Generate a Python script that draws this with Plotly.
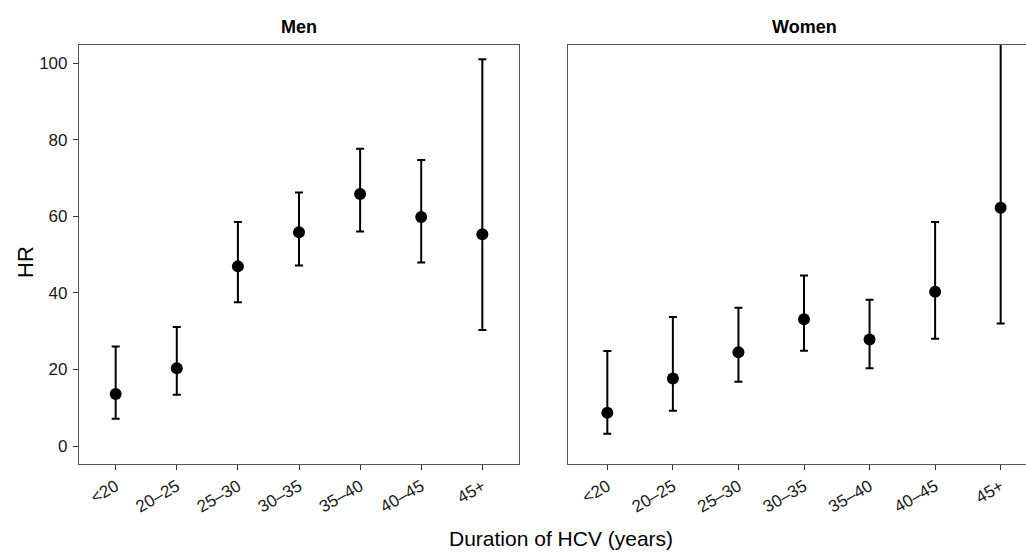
import plotly.graph_objects as go

categories = ["<20", "20–25", "25–30", "30–35", "35–40", "40–45", "45+"]

men_hr = [13.6, 20.3, 46.9, 55.8, 65.8, 59.8, 55.3]
men_lower = [7.1, 13.4, 37.5, 47.1, 56.0, 47.9, 30.3]
men_upper = [26.0, 31.1, 58.5, 66.2, 77.6, 74.7, 101.0]

women_hr = [8.7, 17.6, 24.5, 33.1, 27.8, 40.3, 62.2]
women_lower = [3.2, 9.2, 16.8, 24.9, 20.3, 28.0, 32.0]
women_upper = [24.8, 33.7, 36.1, 44.5, 38.2, 58.5, 121.0]

FONT = "Liberation Sans, Arial, sans-serif"
W, H = 1026, 552
L, R, T, B = 79, 0, 45, 88
plot_w = W - L - R
plot_h = H - T - B

men_px = (79, 519)
women_px = (568, 1040)
step_w = (women_px[1] - women_px[0]) / 7.2

def dom(px):
    return [(px[0] - L) / plot_w, min(1.0, (px[1] - L) / plot_w)]

def px_x(x):
    return (x - L) / plot_w

def px_y(y):
    return (H - B - y) / plot_h

fig = go.Figure()

def add_series(hr, lo, up, xa, ya):
    fig.add_trace(go.Scatter(
        x=categories, y=hr, mode="markers",
        marker=dict(color="black", size=12),
        error_y=dict(type="data", symmetric=False,
                     array=[u - h for u, h in zip(up, hr)],
                     arrayminus=[h - l for h, l in zip(hr, lo)],
                     color="black", thickness=2, width=4),
        xaxis=xa, yaxis=ya, showlegend=False,
    ))

add_series(men_hr, men_lower, men_upper, "x", "y")
add_series(women_hr, women_lower, women_upper, "x2", "y2")

yrange = [-4.7, 104.7]
tickfont = dict(family=FONT, size=17, color="#1a1a1a")
common = dict(showline=True, linecolor="#555555", linewidth=1.2,
              showgrid=False, zeroline=False, automargin=False,
              tickcolor="#333333", tickwidth=1, ticklen=5)

women_right = -0.6 + (W - women_px[0]) / step_w

fig.update_layout(
    width=W, height=H,
    margin=dict(l=L, r=R, t=T, b=B),
    plot_bgcolor="white", paper_bgcolor="white",
    font=dict(family=FONT, color="black"),
    xaxis=dict(domain=dom(men_px), range=[-0.6, 6.6], mirror=True,
               tickangle=-30, anchor="y", ticks="outside", tickfont=tickfont, **common),
    yaxis=dict(domain=[0, 1], range=yrange, mirror=True, ticks="outside",
               ticklabelstandoff=2,
               tickvals=[0, 20, 40, 60, 80, 100], anchor="x", tickfont=tickfont, **common),
    xaxis2=dict(domain=dom(women_px), range=[-0.6, women_right], mirror=True,
                tickangle=-30, anchor="y2", ticks="outside", tickfont=tickfont, **common),
    yaxis2=dict(domain=[0, 1], range=yrange, anchor="x2", showticklabels=False,
                ticks="", **common),
)

# facet strip titles
men_c = px_x((men_px[0] + men_px[1]) / 2)
women_c = px_x((women_px[0] + women_px[1]) / 2)
for txt, xc in [("Men", men_c), ("Women", women_c)]:
    fig.add_annotation(text=f"<b>{txt}</b>", x=xc, y=px_y(27), xref="paper", yref="paper",
                       xanchor="center", yanchor="middle", showarrow=False,
                       font=dict(family=FONT, size=18, color="black"))

fig.add_annotation(text="HR", x=px_x(25), y=px_y(262), xref="paper", yref="paper",
                   xanchor="center", yanchor="middle", showarrow=False, textangle=-90,
                   font=dict(family=FONT, size=22, color="black"))

fig.add_annotation(text="Duration of HCV (years)", x=px_x(561), y=px_y(538),
                   xref="paper", yref="paper", xanchor="center", yanchor="middle",
                   showarrow=False, font=dict(family=FONT, size=21, color="black"))

fig.write_html("out.html", config={"displayModeBar": False},
               post_script="document.body.style.margin='0';document.body.style.padding='0';")
